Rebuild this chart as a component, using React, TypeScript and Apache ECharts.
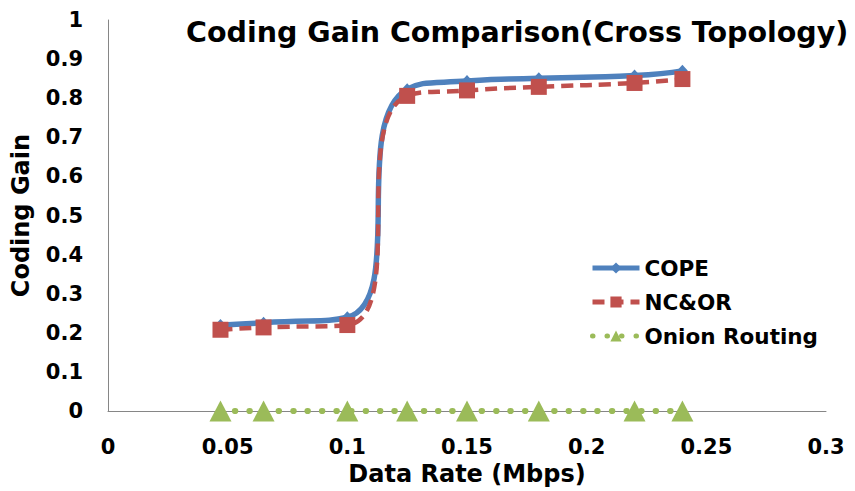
import React, { useEffect, useRef } from "react";
import * as echarts from "echarts";

const dataRate = [0.047, 0.065, 0.1, 0.125, 0.15, 0.18, 0.22, 0.24];
const cope = [0.22, 0.226, 0.24, 0.823, 0.844, 0.851, 0.858, 0.87];
const ncor = [0.208, 0.214, 0.22, 0.806, 0.82, 0.829, 0.839, 0.849];
const onion = [0, 0, 0, 0, 0, 0, 0, 0];
const xTickLabels = ["0", "0.05", "0.1", "0.15", "0.2", "0.25", "0.3"];
const yTickLabels = ["0", "0.1", "0.2", "0.3", "0.4", "0.5", "0.6", "0.7", "0.8", "0.9", "1"];

const FONT = "DejaVu Sans";

export default function App() {
  const ref = useRef<HTMLDivElement>(null);
  useEffect(() => {
    if (!ref.current) return;
    const chart = echarts.init(ref.current, null, { renderer: "svg" });
    const pair = (ys: number[]) => dataRate.map((x, i) => [x, ys[i]]);
    chart.setOption({
      animation: false,
      backgroundColor: "#ffffff",
      title: {
        text: "Coding Gain Comparison(Cross Topology)",
        left: 181,
        top: 13,
        textStyle: { fontFamily: FONT, fontWeight: "bold", fontSize: 28.5, color: "#000" },
      },
      grid: { left: 108, right: 29, top: 20, bottom: 73, containLabel: false },
      legend: {
        orient: "vertical",
        left: 585,
        top: 252,
        itemWidth: 47,
        itemHeight: 14,
        itemGap: 12,
        lineStyle: { width: 5 },
        textStyle: { fontFamily: FONT, fontWeight: "bold", fontSize: 21.5, color: "#000" },
        data: ["COPE", "NC&OR", "Onion Routing"],
      },
      xAxis: {
        type: "value",
        min: 0,
        max: 0.3,
        interval: 0.05,
        name: "Data Rate (Mbps)",
        nameLocation: "middle",
        nameGap: 47,
        nameTextStyle: { fontFamily: FONT, fontWeight: "bold", fontSize: 24, color: "#000" },
        axisLine: { lineStyle: { color: "#868686", width: 1 } },
        axisTick: { show: false },
        splitLine: { show: false },
        axisLabel: {
          margin: 25,
          fontFamily: FONT,
          fontWeight: "bold",
          fontSize: 21,
          color: "#000",
          formatter: (_v: number, i: number) => xTickLabels[i],
        },
      },
      yAxis: {
        type: "value",
        min: 0,
        max: 1,
        interval: 0.1,
        name: "Coding Gain",
        nameLocation: "middle",
        nameGap: 75,
        nameTextStyle: { fontFamily: FONT, fontWeight: "bold", fontSize: 24, color: "#000" },
        axisLine: { show: true, lineStyle: { color: "#868686", width: 1 } },
        axisTick: { show: false },
        splitLine: { show: false },
        axisLabel: {
          margin: 25,
          fontFamily: FONT,
          fontWeight: "bold",
          fontSize: 21,
          color: "#000",
          formatter: (_v: number, i: number) => yTickLabels[i],
        },
      },
      series: [
        {
          name: "COPE",
          type: "line",
          data: pair(cope),
          smooth: 0.6,
          symbol: "diamond",
          symbolSize: [11, 12],
          itemStyle: { color: "#4F81BD" },
          lineStyle: { color: "#4F81BD", width: 5.5 },
        },
        {
          name: "NC&OR",
          type: "line",
          data: pair(ncor),
          smooth: 0.6,
          symbol: "rect",
          symbolSize: 16,
          itemStyle: { color: "#C0504D" },
          lineStyle: { color: "#C0504D", width: 4.5, type: [12, 7] },
        },
        {
          name: "Onion Routing",
          type: "line",
          data: pair(onion),
          smooth: 0.6,
          symbol: "triangle",
          symbolSize: [22, 21],
          itemStyle: { color: "#9BBB59" },
          lineStyle: { color: "#9BBB59", width: 6, type: [0.5, 14], cap: "round" },
        },
      ],
    });
    return () => chart.dispose();
  }, []);
  return (
    <div
      ref={ref}
      style={{ position: "fixed", left: 0, top: 0, width: 855, height: 491, background: "#fff" }}
    />
  );
}
